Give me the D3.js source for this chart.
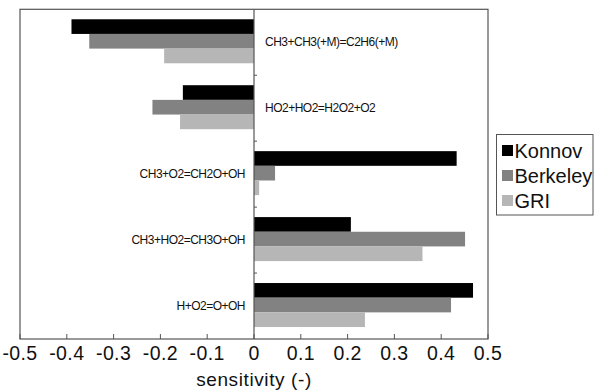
<!DOCTYPE html>
<html lang="en">
<head>
<meta charset="UTF-8" />
<title>Sensitivity bars</title>
<script src="https://d3js.org/d3.v7.min.js"></script>
<style>
  body { margin: 0; background: #fff; font-family: "Liberation Sans", Arial, sans-serif; }
  svg { display: block; }
  .rxn { font-size: 12px; fill: #111; letter-spacing: -0.5px; }
  .tick-label { font-size: 19.5px; fill: #111; letter-spacing: 0.4px; }
  .axis-title { font-size: 19px; fill: #111; letter-spacing: 0.6px; }
  .legend-text { font-size: 20px; fill: #111; }
</style>
</head>
<body>
<svg id="chart" width="594" height="391"></svg>
<script>
const reactions = [
  "CH3+CH3(+M)=C2H6(+M)",
  "HO2+HO2=H2O2+O2",
  "CH3+O2=CH2O+OH",
  "CH3+HO2=CH3O+OH",
  "H+O2=O+OH"
];
const mechanisms = ["Konnov", "Berkeley", "GRI"];
const konnov   = [-0.39, -0.152, 0.433, 0.207, 0.468];
const berkeley = [-0.352, -0.217, 0.045, 0.451, 0.421];
const gri      = [-0.192, -0.158, 0.011, 0.36, 0.237];
const xTicks = [-0.5, -0.4, -0.3, -0.2, -0.1, 0, 0.1, 0.2, 0.3, 0.4, 0.5];

const colors = { Konnov: "#000000", Berkeley: "#828282", GRI: "#b6b6b6" };
const seriesValues = { Konnov: konnov, Berkeley: berkeley, GRI: gri };

const svg = d3.select("#chart");
const plot = { left: 20, right: 488, top: 9.3, bottom: 339 };

const x = d3.scaleLinear().domain([-0.5, 0.5]).range([plot.left, plot.right]);
const y = d3.scaleBand().domain(reactions).range([plot.top, plot.bottom]).paddingInner(0);
const inner = d3.scaleBand().domain(mechanisms).range([0, 44]).padding(0);
const groupOffset = (y.bandwidth() - 44) / 2 - 1;

const rows = [];
reactions.forEach((r, i) => {
  mechanisms.forEach(m => rows.push({ r, m, v: seriesValues[m][i] }));
});

svg.append("g")
  .selectAll("rect")
  .data(rows)
  .join("rect")
  .attr("x", d => Math.min(x(0), x(d.v)))
  .attr("width", d => Math.abs(x(d.v) - x(0)))
  .attr("y", d => y(d.r) + groupOffset + inner(d.m))
  .attr("height", inner.bandwidth())
  .attr("fill", d => colors[d.m]);

// frame
svg.append("rect")
  .attr("x", plot.left).attr("y", plot.top)
  .attr("width", plot.right - plot.left).attr("height", plot.bottom - plot.top)
  .attr("fill", "none").attr("stroke", "#555").attr("stroke-width", 1.2);

// zero line
svg.append("line")
  .attr("x1", x(0)).attr("x2", x(0))
  .attr("y1", plot.top).attr("y2", plot.bottom)
  .attr("stroke", "#555").attr("stroke-width", 1.2);

// category separator ticks on zero line
svg.append("g")
  .selectAll("line")
  .data(reactions.slice(1))
  .join("line")
  .attr("x1", x(0)).attr("x2", x(0) + 3)
  .attr("y1", d => y(d)).attr("y2", d => y(d))
  .attr("stroke", "#555");

// x axis ticks (inward)
const ax = svg.append("g");
ax.selectAll("line")
  .data(xTicks)
  .join("line")
  .attr("x1", d => x(d)).attr("x2", d => x(d))
  .attr("y1", plot.bottom).attr("y2", plot.bottom - 5)
  .attr("stroke", "#555");
ax.selectAll("text")
  .data(xTicks)
  .join("text")
  .attr("class", "tick-label")
  .attr("x", d => x(d))
  .attr("y", 360)
  .attr("text-anchor", "middle")
  .text(d => String(d));

svg.append("text")
  .attr("class", "axis-title")
  .attr("x", x(0))
  .attr("y", 386)
  .attr("text-anchor", "middle")
  .text("sensitivity (-)");

// reaction labels
svg.append("g")
  .selectAll("text")
  .data(reactions)
  .join("text")
  .attr("class", "rxn")
  .attr("x", (d, i) => konnov[i] < 0 ? x(0) + 11 : x(0) - 9)
  .attr("y", d => y(d) + y.bandwidth() / 2)
  .attr("dy", "0.35em")
  .attr("text-anchor", (d, i) => konnov[i] < 0 ? "start" : "end")
  .text(d => d);

// legend
const lg = svg.append("g");
lg.append("rect")
  .attr("x", 496.5).attr("y", 134.5).attr("width", 96.5).attr("height", 80.5)
  .attr("fill", "#fff").attr("stroke", "#555").attr("stroke-width", 1);
const li = lg.selectAll("g.item")
  .data(mechanisms)
  .join("g")
  .attr("class", "item")
  .attr("transform", (d, i) => `translate(502, ${145 + i * 25})`);
li.append("rect")
  .attr("width", 11).attr("height", 11)
  .attr("fill", d => colors[d]);
li.append("text")
  .attr("class", "legend-text")
  .attr("x", 12.5).attr("y", 5.5)
  .attr("dy", "0.36em")
  .text(d => d);
</script>
</body>
</html>
